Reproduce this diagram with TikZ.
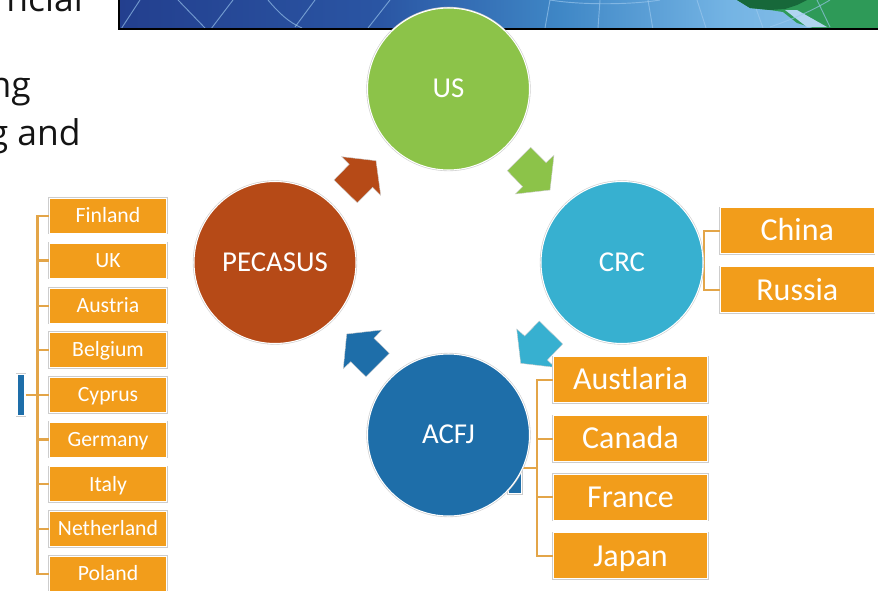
\documentclass[tikz,border=0pt]{standalone}
\usepackage{fontspec}
\setmainfont{Carlito}
\newfontfamily\bodyfont{Open Sans}
\definecolor{boxorange}{HTML}{F29D1B}
\definecolor{linkorange}{HTML}{E3A548}
\definecolor{usgreen}{HTML}{8CC349}
\definecolor{crccyan}{HTML}{37B0D0}
\definecolor{acfjblue}{HTML}{1E6EA9}
\definecolor{pecbrown}{HTML}{B64A17}
\definecolor{edgegrey}{HTML}{CDCDCD}
\definecolor{bannerA}{HTML}{233F8E}
\definecolor{bannerB}{HTML}{2A55A3}
\definecolor{bannerC}{HTML}{3F87C6}
\definecolor{bannerD}{HTML}{74B4E4}
\definecolor{bannerE}{HTML}{8FC3E9}
\definecolor{landdark}{HTML}{17683A}
\definecolor{landmid}{HTML}{2E9A58}
\definecolor{gridline}{HTML}{9CC8EE}
\pgfdeclarehorizontalshading{bannershade}{100bp}{color(0bp)=(bannerA); color(25bp)=(bannerA); color(42bp)=(bannerB); color(54bp)=(bannerC); color(65bp)=(bannerD); color(75bp)=(bannerE); color(100bp)=(bannerE)}
\tikzset{
  x=0.75pt, y=-0.75pt,
  ringed/.style={preaction={draw=edgegrey,line width=1.7pt},draw=white,line width=0.8pt},
  boxsmall/.style={ringed,fill=boxorange,text=white,inner sep=0pt,minimum width=87.6pt,minimum height=26.3pt,
     font=\fontsize{16.3pt}{18pt}\selectfont,text height=13.2pt,text depth=2.8pt},
  boxlarge/.style={ringed,fill=boxorange,text=white,inner sep=0pt,minimum width=115.4pt,minimum height=34.4pt,
     font=\fontsize{24pt}{27pt}\selectfont,text height=19.6pt,text depth=4.2pt},
  hub/.style={circle,ringed,text=white,inner sep=0pt,minimum size=121.5pt,
     font=\fontsize{21.6pt}{25pt}\selectfont,text height=17pt,text depth=3.9pt},
  bar/.style={ringed,fill=acfjblue,inner sep=0pt},
  link/.style={draw=linkorange,line width=1.6pt},
  blockarrow/.style={draw=edgegrey,line width=0.3pt,line join=miter},
  bodytext/.style={font=\bodyfont\fontsize{26.6pt}{30pt}\selectfont,text=black!92,inner sep=0pt,anchor=base east},
  grid/.style={draw=gridline,line width=0.7pt,opacity=0.65}
}
\begin{document}
\begin{tikzpicture}
\useasboundingbox (0,0) rectangle (878,590);
\clip (0,0) rectangle (878,590);
% banner
\shade[shading=bannershade] (119,-2) rectangle (880,28.5);
\begin{scope}
\clip (119,0) rectangle (878,28);
\draw[grid] (121.7,28) -- (140,0);
\draw[grid] (178,0) -- (205,28);
\draw[grid] (211.7,28) -- (233,0);
\draw[grid] (268,0) .. controls (278,12) and (288,22) .. (302,28);
\draw[grid] (295,27) -- (315,0);
\draw[grid] (368,28) -- (390,0);
\draw[grid] (545,28) -- (550,0);
\draw[grid] (598,28) -- (600,0);
\draw[grid] (652.7,28) -- (648,0);
\draw[grid] (706,28) -- (697,0);
\draw[grid] (550,0) .. controls (580,5) and (630,5) .. (660,0);
\draw[grid] (763,28) -- (753,0);
\fill[landmid] (737,0) -- (750,8) -- (770,10) -- (783,12) -- (797,23) -- (813,28) -- (878,28) -- (878,0) -- cycle;
\fill[landdark] (737,0) -- (750,8) -- (770,10) -- (785,9) -- (797,5) -- (807,0) -- cycle;
\fill[bannerE!70!white] (785,10) -- (797,10) -- (827,27) -- (807,27) -- cycle;
\draw[grid] (770,27) .. controls (790,20) and (810,12) .. (830,0);
\draw[grid] (830,27) -- (817,0);
\end{scope}
\draw[black,line width=1.2pt] (119,-2) -- (119,28.7) -- (880,28.7);
% clipped body text
\node[bodytext] (lineA) at (83,11) {ncial};
\node[bodytext] (lineB) at (31,97) {ng};
\node[bodytext] (lineC) at (81,145) {g and};
% block arrows
\filldraw[blockarrow,fill=pecbrown] (334,180) -- (357.3,202.7) -- (372.7,187.3) -- (380.7,195.3) -- (376,160.7) -- (341.7,156.7) -- (349.3,164.3) -- cycle;
\filldraw[blockarrow,fill=usgreen] (507.3,170.7) -- (530.7,147.3) -- (546,162.7) -- (554,155.3) -- (550,190) -- (515.3,194) -- (522.7,186.7) -- cycle;
\filldraw[blockarrow,fill=crccyan] (562.7,344) -- (539.3,321) -- (524.7,336) -- (516.7,329) -- (520.7,363.3) -- (555,367.3) -- (547.3,360) -- cycle;
\filldraw[blockarrow,fill=acfjblue] (389.3,353.3) -- (366,376.7) -- (350.7,361.7) -- (343.3,368.7) -- (346.7,334) -- (381.7,330) -- (374,338.3) -- cycle;
% boxes
\foreach \nm/\txt/\yy in {finland/Finland/215.7,uk/UK/260.5,austria/Austria/305.7,belgium/Belgium/350,cyprus/Cyprus/395,germany/Germany/439.5,italy/Italy/484.3,netherland/Netherland/529,poland/Poland/574}
  \node[boxsmall] (\nm) at (108,\yy) {\txt};
\foreach \nm/\txt/\yy in {austlaria/Austlaria/379.7,canada/Canada/438.7,france/France/497.3,japan/Japan/555.8}
  \node[boxlarge] (\nm) at (630.5,\yy) {\txt};
\foreach \nm/\txt/\yy in {china/China/230.7,russia/Russia/289.8}
  \node[boxlarge] (\nm) at (797.3,\yy) {\txt};
\node[bar,minimum width=6pt,minimum height=31pt] (barL) at (21,394.7) {};
\node[bar,minimum width=10pt,minimum height=39pt] (barR) at (515,467.7) {};
% connectors
\coordinate (trunkL) at (37.5,394.7);
\coordinate (trunkR) at (537.3,467.7);
\coordinate (trunkC) at (704,260);
\draw[link] (barL.east) -- (trunkL);
\foreach \nm in {finland,uk,austria,belgium,cyprus,germany,italy,netherland,poland}
  \draw[link] (trunkL) |- (\nm.west);
\draw[link] (barR.east) -- (trunkR);
\foreach \nm in {austlaria,canada,france,japan}
  \draw[link] (trunkR) |- (\nm.west);
\foreach \nm in {china,russia}
  \draw[link] (trunkC) |- (\nm.west);
% hubs
\node[hub,fill=usgreen] (us) at (448.5,89) {US};
\node[hub,fill=crccyan] (crc) at (622,262.5) {CRC};
\node[hub,fill=acfjblue] (acfj) at (448.5,435) {ACFJ};
\node[hub,fill=pecbrown] (pecasus) at (275,262.5) {PECASUS};
\end{tikzpicture}
\end{document}
